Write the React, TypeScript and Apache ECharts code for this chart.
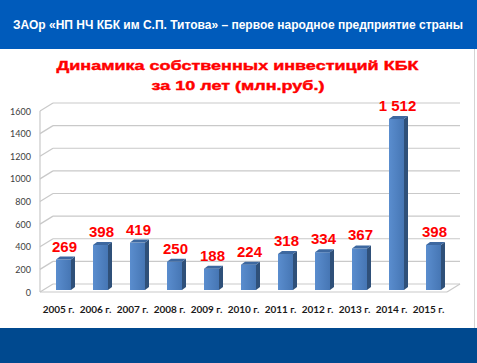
import React, { useEffect, useRef } from "react";
import * as echarts from "echarts";

const years = ["2005 г.", "2006 г.", "2007 г.", "2008 г.", "2009 г.", "2010 г.", "2011 г.", "2012 г.", "2013 г.", "2014 г.", "2015 г."];
const investments = [269, 398, 419, 250, 188, 224, 318, 334, 367, 1512, 398];
const valueLabels = ["269", "398", "419", "250", "188", "224", "318", "334", "367", "1 512", "398"];
const yTicks = [0, 200, 400, 600, 800, 1000, 1200, 1400, 1600];

const headerText = "ЗАОр «НП НЧ КБК им С.П. Титова» – первое народное предприятие страны";
const titleLine1 = "Динамика собственных инвестиций КБК";
const titleLine2 = "за 10 лет (млн.руб.)";

export default function App() {
  const ref = useRef<HTMLDivElement>(null);
  useEffect(() => {
    const chart = echarts.init(ref.current!, null, { renderer: "svg" });
    const DX = 13, DY = -8;
    const gridColor = "#c9c9c9";
    const titleFont = "bold 12.5px 'Liberation Sans'";
    const option: any = {
      animation: false,
      backgroundColor: "#ffffff",
      graphic: [
        { type: "rect", silent: true, z: -10, shape: { x: 0, y: 0, width: 477, height: 49 }, style: { fill: "#005bbb" } },
        { type: "line", silent: true, z: -10, shape: { x1: 474.5, y1: 49, x2: 474.5, y2: 328 }, style: { stroke: "#d4d4d4", lineWidth: 1 } },
        { type: "rect", silent: true, z: -10, shape: { x: 0, y: 328, width: 477, height: 35 }, style: { fill: "#00498f" } },
        {
          type: "text", x: 13, y: 25,
          style: { text: headerText, fill: "#ffffff", font: "bold 12px 'Liberation Sans'", verticalAlign: "middle", align: "left" },
        },
        {
          type: "text", x: 237.5, y: 65.5, scaleX: 1.44, scaleY: 1,
          style: { text: titleLine1, fill: "#ff0000", stroke: "#ff0000", lineWidth: 0.4, font: titleFont, verticalAlign: "middle", align: "center" },
        },
        {
          type: "text", x: 238, y: 85.5, scaleX: 1.44, scaleY: 1,
          style: { text: titleLine2, fill: "#ff0000", stroke: "#ff0000", lineWidth: 0.4, font: titleFont, verticalAlign: "middle", align: "center" },
        },
      ],
      grid: { left: 40, right: 30, top: 111, bottom: 71 },
      xAxis: {
        type: "category",
        data: years,
        axisLine: { show: false },
        axisTick: { show: false },
        axisLabel: { margin: 12, color: "#1a1a1a", fontSize: 10, fontWeight: "bold", fontFamily: "Lato", interval: 0 },
      },
      yAxis: {
        type: "value",
        min: 0,
        max: 1600,
        interval: 200,
        axisLine: { show: false },
        axisTick: { show: false },
        splitLine: { show: false },
        axisLabel: { margin: 9, color: "#404040", fontSize: 9, fontFamily: "Lato", formatter: (v: number) => String(v) },
      },
      series: [
        {
          type: "custom",
          silent: true,
          z: 1,
          data: yTicks.map((t) => [0, t]),
          renderItem: (params: any, api: any) => {
            const cs = params.coordSys;
            const v = api.value(1);
            const y = api.coord([0, v])[1];
            const x0 = cs.x, x1 = cs.x + cs.width;
            const st = { stroke: gridColor, lineWidth: 1.2 };
            const children: any[] = [
              { type: "line", shape: { x1: x0 + DX, y1: y + DY, x2: x1 + DX, y2: y + DY }, style: st },
              { type: "line", shape: { x1: x0, y1: y, x2: x0 + DX, y2: y + DY }, style: st },
            ];
            if (v === 0) {
              children.push({ type: "line", shape: { x1: x0, y1: y, x2: x1, y2: y }, style: st });
              children.push({ type: "line", shape: { x1: x1, y1: y, x2: x1 + DX, y2: y + DY }, style: st });
              children.push({ type: "line", shape: { x1: x0, y1: cs.y, x2: x0, y2: cs.y + cs.height }, style: st });
            }
            return { type: "group", children };
          },
        },
        {
          type: "custom",
          z: 2,
          data: investments.map((v, i) => [i, v]),
          renderItem: (params: any, api: any) => {
            const i = api.value(0);
            const v = api.value(1);
            const top = api.coord([i, v]);
            const base = api.coord([i, 0]);
            const w = 15, d = 4, h = 3, dx = 5, dy = -2;
            const left = top[0] + dx - w / 2;
            const yt = top[1] + dy;
            const yb = base[1] + dy;
            return {
              type: "group",
              children: [
                {
                  type: "rect",
                  shape: { x: left, y: yt, width: w, height: yb - yt },
                  style: {
                    fill: new echarts.graphic.LinearGradient(0, 0, 1, 0, [
                      { offset: 0, color: "#5a8dce" },
                      { offset: 1, color: "#4676b4" },
                    ]),
                  },
                },
                {
                  type: "polygon",
                  shape: { points: [[left + w, yt], [left + w + d, yt - h], [left + w + d, yb - h], [left + w, yb]] },
                  style: { fill: "#2f5079" },
                },
                {
                  type: "polygon",
                  shape: { points: [[left, yt], [left + d, yt - h], [left + w + d, yt - h], [left + w, yt]] },
                  style: { fill: "#3d68a0" },
                },
                {
                  type: "text",
                  style: {
                    x: left + w / 2 + 1,
                    y: yt - 6,
                    text: valueLabels[i],
                    fill: "#ff0000",
                    font: "bold 15px 'Liberation Sans'",
                    align: "center",
                    verticalAlign: "bottom",
                  },
                },
              ],
            };
          },
        },
      ],
    };
    chart.setOption(option);
    return () => chart.dispose();
  }, []);
  return <div ref={ref} style={{ position: "fixed", left: 0, top: 0, width: 477, height: 363 }} />;
}
